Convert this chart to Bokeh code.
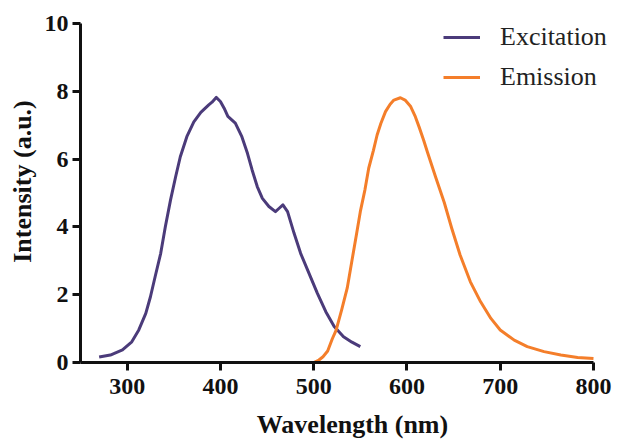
from bokeh.plotting import figure
from bokeh.models import Range1d, FixedTicker, Legend, LegendItem
from bokeh.embed import file_html
from bokeh.resources import INLINE

exc_wl = [270, 282, 295, 305, 312.5, 320, 325, 330, 336, 341, 346.5, 352, 357, 364, 371.5, 379,
          387.5, 391, 395.5, 400, 404, 408, 416, 423, 429, 434, 439.5, 445, 452, 459, 463, 467,
          472, 479, 486, 495, 504, 513, 522, 532, 541, 550]
exc_int = [0.16, 0.22, 0.37, 0.61, 0.96, 1.45, 1.94, 2.53, 3.22, 4.01, 4.79, 5.48, 6.07, 6.66,
           7.10, 7.38, 7.60, 7.68, 7.82, 7.70, 7.50, 7.26, 7.06, 6.66, 6.17, 5.68, 5.19, 4.84,
           4.60, 4.45, 4.55, 4.65, 4.45, 3.81, 3.22, 2.63, 2.04, 1.50, 1.06, 0.76, 0.60, 0.47]

em_wl = [500, 505, 510, 515, 520, 524, 530, 536, 541, 546, 550, 555, 559, 564, 568, 572, 577,
         582, 586, 593, 598, 604, 609, 613, 618, 622, 631, 640, 648, 657, 668, 679, 690, 700,
         715, 729, 747, 765, 783, 800]
em_int = [0.00, 0.06, 0.17, 0.34, 0.70, 0.95, 1.55, 2.20, 3.00, 3.80, 4.45, 5.10, 5.73, 6.25,
          6.71, 7.05, 7.40, 7.62, 7.74, 7.81, 7.74, 7.55, 7.25, 6.95, 6.55, 6.20, 5.45, 4.72,
          3.96, 3.17, 2.38, 1.79, 1.30, 0.96, 0.66, 0.47, 0.32, 0.22, 0.15, 0.12]

x_ticks = [300, 400, 500, 600, 700, 800]
y_ticks = [0, 2, 4, 6, 8, 10]

FONT = "Liberation Serif"

p = figure(width=624, height=441, output_backend="svg", toolbar_location=None,
           x_range=Range1d(250, 833.25), y_range=Range1d(0, 10.678),
           min_border_left=80, min_border_right=0, min_border_top=0, min_border_bottom=79)
p.outline_line_color = None
p.xgrid.visible = False
p.ygrid.visible = False
p.background_fill_color = "white"
p.border_fill_color = "white"

r1 = p.line(exc_wl, exc_int, line_color="#4b3b7a", line_width=3, line_join="round")
r2 = p.line(em_wl, em_int, line_color="#f47e2a", line_width=3, line_join="round")

for ax in (p.xaxis[0], p.yaxis[0]):
    ax.axis_line_width = 3
    ax.axis_line_color = "#111111"
    ax.major_tick_line_width = 3
    ax.major_tick_line_color = "#111111"
    ax.major_tick_out = 8
    ax.major_tick_in = 0
    ax.minor_tick_line_color = None
    ax.major_label_text_font = FONT
    ax.major_label_text_font_style = "bold"
    ax.major_label_text_font_size = "24px"
    ax.major_label_text_color = "#111111"
    ax.axis_label_text_font = FONT
    ax.axis_label_text_font_style = "bold"
    ax.axis_label_text_color = "#111111"
    ax.axis_label_text_font_size = "26px"

p.xaxis[0].bounds = (250, 800)
p.yaxis[0].bounds = (0, 10)
p.xaxis[0].ticker = FixedTicker(ticks=x_ticks)
p.yaxis[0].ticker = FixedTicker(ticks=y_ticks)
p.xaxis[0].axis_label = "Wavelength (nm)"
p.yaxis[0].axis_label = "Intensity (a.u.)"
p.xaxis[0].major_label_standoff = 8
p.yaxis[0].major_label_standoff = 4
p.xaxis[0].axis_label_standoff = 13
p.yaxis[0].axis_label_standoff = 5

legend = Legend(items=[LegendItem(label="Excitation", renderers=[r1]),
                       LegendItem(label="Emission", renderers=[r2])],
                location=(363, 269))
legend.border_line_color = None
legend.background_fill_alpha = 0
legend.padding = 0
legend.margin = 0
legend.spacing = 8
legend.glyph_width = 37
legend.glyph_height = 32
legend.label_height = 32
legend.label_standoff = 20
legend.label_text_font = FONT
legend.label_text_font_size = "26px"
legend.label_text_color = "#222222"
legend.label_text_baseline = "middle"
p.add_layout(legend)

open("out.html", "w").write(file_html(p, INLINE))
